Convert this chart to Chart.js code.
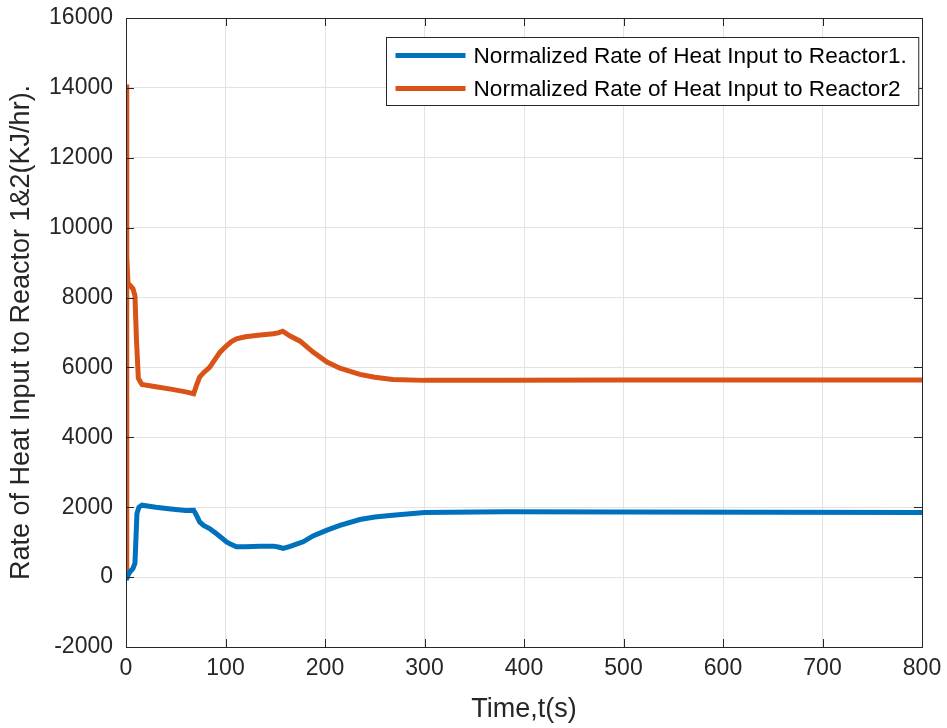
<!DOCTYPE html>
<html>
<head>
<meta charset="utf-8">
<script src="https://cdn.jsdelivr.net/npm/chart.js@4.4.1/dist/chart.umd.min.js"></script>
<style>
  html, body { margin: 0; padding: 0; background: #fff; }
  #wrap { width: 947px; height: 728px; }
</style>
</head>
<body>
<div id="wrap"><canvas id="myChart" width="947" height="728"></canvas></div>
<script>
// values
const timeR1 = [0, 2, 4, 7, 9, 10, 11, 13, 16, 30, 45, 60, 68, 71, 74, 78, 84, 90, 95, 101, 106, 111, 120, 135, 148, 153, 158, 165, 172, 178, 188, 202, 215, 235, 250, 268, 300, 380, 500, 650, 800];
const heatR1 = [-86, 50, 150, 248, 400, 1100, 1820, 2000, 2057, 2000, 1950, 1905, 1914, 1760, 1580, 1480, 1390, 1260, 1150, 1010, 930, 866, 870, 880, 886, 860, 819, 880, 950, 1010, 1180, 1343, 1480, 1648, 1720, 1771, 1848, 1870, 1865, 1855, 1850];

const timeR2 = [0, 0.5, 1, 2, 4, 7, 9, 10.5, 12.4, 16, 30, 45, 60, 68, 71, 74, 78, 84, 90, 94.5, 101, 106, 111, 120, 135, 148, 153, 157.5, 165, 175, 188, 202, 215, 235, 250, 268, 300, 380, 500, 650, 800];
const heatR2 = [0, 14100, 9200, 8400, 8350, 8250, 8057, 6800, 5690, 5514, 5450, 5380, 5300, 5248, 5500, 5723, 5850, 6000, 6250, 6437, 6620, 6740, 6820, 6880, 6930, 6962, 6990, 7038, 6900, 6752, 6438, 6152, 5980, 5800, 5720, 5657, 5630, 5630, 5640, 5640, 5640];

const xTicks = [0, 100, 200, 300, 400, 500, 600, 700, 800];
const yTicks = [-2000, 0, 2000, 4000, 6000, 8000, 10000, 12000, 14000, 16000];
const seriesNames = ["Normalized Rate of Heat Input to Reactor1.", "Normalized Rate of Heat Input to Reactor2"];

const blue = "#0072BD";
const red = "#D95319";
const axisColor = "#262626";
const font = "'Liberation Sans', Arial, Helvetica, sans-serif";

function toPoints(xs, ys) {
  return xs.map((x, i) => ({ x: x, y: ys[i] }));
}

// box around the plot, inward ticks on all four sides, and the legend
const matlabAxes = {
  id: "matlabAxes",
  afterDraw(chart) {
    const c = chart.ctx;
    const a = chart.chartArea;
    const xs = chart.scales.x;
    const ys = chart.scales.y;
    c.save();
    c.strokeStyle = axisColor;
    c.lineWidth = 1;
    c.beginPath();
    xTicks.forEach((v) => {
      const px = Math.round(xs.getPixelForValue(v)) + 0.5;
      c.moveTo(px, a.bottom); c.lineTo(px, a.bottom - 8);
      c.moveTo(px, a.top); c.lineTo(px, a.top + 8);
    });
    yTicks.forEach((v) => {
      const py = Math.round(ys.getPixelForValue(v)) + 0.5;
      c.moveTo(a.left, py); c.lineTo(a.left + 8, py);
      c.moveTo(a.right, py); c.lineTo(a.right - 8, py);
    });
    c.stroke();
    c.strokeRect(Math.round(a.left) + 0.5, Math.round(a.top) + 0.5, Math.round(a.right - a.left), Math.round(a.bottom - a.top));

    // legend
    c.font = "22.6px " + font;
    const tw = Math.max(...seriesNames.map((s) => c.measureText(s).width));
    const boxW = 87 + tw + 12;
    const boxH = 68;
    const bx = Math.round(a.right - 4 - boxW) + 0.5;
    const by = Math.round(a.top + 19) + 0.5;
    c.fillStyle = "#fff";
    c.fillRect(bx, by, boxW, boxH);
    c.strokeStyle = axisColor;
    c.strokeRect(bx, by, boxW, boxH);
    const colors = [blue, red];
    seriesNames.forEach((s, i) => {
      const ly = by + 18 + i * 33;
      c.strokeStyle = colors[i];
      c.lineWidth = 5;
      c.beginPath();
      c.moveTo(bx + 9, ly); c.lineTo(bx + 79, ly);
      c.stroke();
      c.fillStyle = "#000";
      c.textBaseline = "middle";
      c.textAlign = "left";
      c.fillText(s, bx + 87, ly + 1);
    });
    c.restore();
  },
};

const ctx = document.getElementById("myChart");
const myChart = new Chart(ctx, {
  type: "line",
  data: {
    datasets: [
      {
        label: seriesNames[0],
        data: toPoints(timeR1, heatR1),
        borderColor: blue,
        borderWidth: 5,
        pointRadius: 0,
        tension: 0,
        fill: false,
      },
      {
        label: seriesNames[1],
        data: toPoints(timeR2, heatR2),
        borderColor: red,
        borderWidth: 5,
        pointRadius: 0,
        tension: 0,
        fill: false,
      },
    ],
  },
  options: {
    responsive: false,
    animation: false,
    layout: { padding: { top: 18, right: 25, left: 0, bottom: 0 } },
    plugins: {
      legend: { display: false },
      tooltip: { enabled: false },
    },
    scales: {
      x: {
        type: "linear",
        min: 0,
        max: 800,
        afterFit: (s) => { s.height = 81; s.paddingLeft = 0; s.paddingRight = 0; },
        afterBuildTicks: (s) => { s.ticks = xTicks.map((v) => ({ value: v })); },
        grid: { color: "#e3e3e3", drawTicks: false },
        border: { display: false },
        ticks: {
          padding: 8,
          color: axisColor,
          font: { family: font, size: 23 },
          maxRotation: 0,
        },
        title: {
          display: true,
          text: "Time,t(s)",
          color: axisColor,
          font: { family: font, size: 27 },
          padding: { top: 0, bottom: 2 },
        },
      },
      y: {
        type: "linear",
        min: -2000,
        max: 16000,
        afterFit: (s) => { s.width = 126; s.paddingTop = 0; s.paddingBottom = 0; },
        afterBuildTicks: (s) => { s.ticks = yTicks.map((v) => ({ value: v })); },
        grid: { color: "#e3e3e3", drawTicks: false },
        border: { display: false },
        ticks: {
          padding: 13,
          color: axisColor,
          font: { family: font, size: 23 },
          callback: (v) => String(v),
        },
        title: {
          display: true,
          text: "Rate of Heat Input to Reactor 1&2(KJ/hr).",
          color: axisColor,
          font: { family: font, size: 27 },
          padding: { top: 5, bottom: 0 },
        },
      },
    },
  },
  plugins: [matlabAxes],
});
</script>
</body>
</html>
